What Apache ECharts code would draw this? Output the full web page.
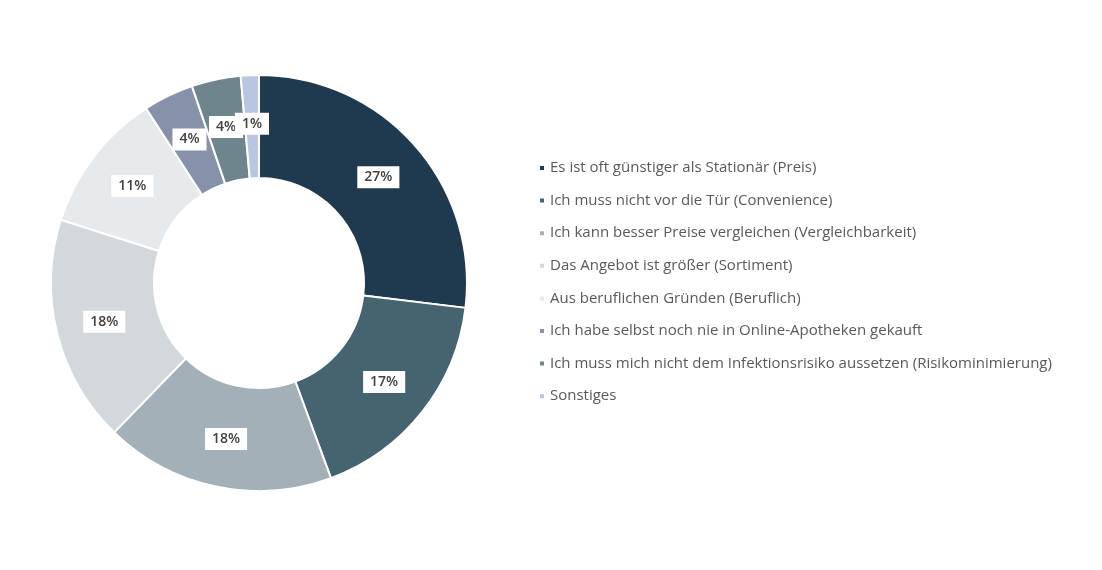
<!DOCTYPE html>
<html>
<head>
<meta charset="utf-8">
<script src="https://cdn.jsdelivr.net/npm/echarts@6/dist/echarts.min.js"></script>
<style>html,body{margin:0;padding:0;background:#fff}#c{width:1102px;height:570px}</style>
</head>
<body>
<div id="c"></div>
<script>
var categories = [
  "Es ist oft günstiger als Stationär (Preis)",
  "Ich muss nicht vor die Tür (Convenience)",
  "Ich kann besser Preise vergleichen (Vergleichbarkeit)",
  "Das Angebot ist größer (Sortiment)",
  "Aus beruflichen Gründen (Beruflich)",
  "Ich habe selbst noch nie in Online-Apotheken gekauft",
  "Ich muss mich nicht dem Infektionsrisiko aussetzen (Risikominimierung)",
  "Sonstiges"
];
var values = [26.8, 17.4, 17.8, 17.6, 10.9, 3.9, 3.8, 1.4];
var colors = ["#1f3a4e", "#456470", "#a3b0b7", "#d2d8dc", "#e7eaed", "#8592aa", "#6e858e", "#b9c6e1"];

var chart = echarts.init(document.getElementById('c'), null, {renderer: 'canvas'});
var data = categories.map(function (n, i) {
  return {name: n, value: values[i], itemStyle: {color: colors[i]}};
});
chart.setOption({
  animation: false,
  legend: {
    orient: 'vertical',
    left: 533,
    top: 155,
    itemWidth: 6,
    itemHeight: 6,
    itemGap: 16.6,
    icon: 'rect',
    textStyle: {fontFamily: 'Open Sans', fontSize: 15, color: '#595959', lineHeight: 16},
    data: categories
  },
  series: [{
    type: 'pie',
    center: [259, 283],
    radius: [105, 208],
    startAngle: 90,
    clockwise: true,
    avoidLabelOverlap: false,
    labelLayout: {hideOverlap: false},
    minShowLabelAngle: 0,
    itemStyle: {borderColor: '#fff', borderWidth: 2},
    label: {
      show: true,
      position: 'inside',
      formatter: function (p) { return Math.round(p.value) + '%'; },
      backgroundColor: '#fff',
      padding: [4, 7, 4, 7],
      fontFamily: 'Open Sans',
      fontSize: 14,
      fontWeight: 600,
      color: '#404040'
    },
    labelLine: {show: false},
    emphasis: {disabled: true},
    data: data
  }]
});
</script>
</body>
</html>
